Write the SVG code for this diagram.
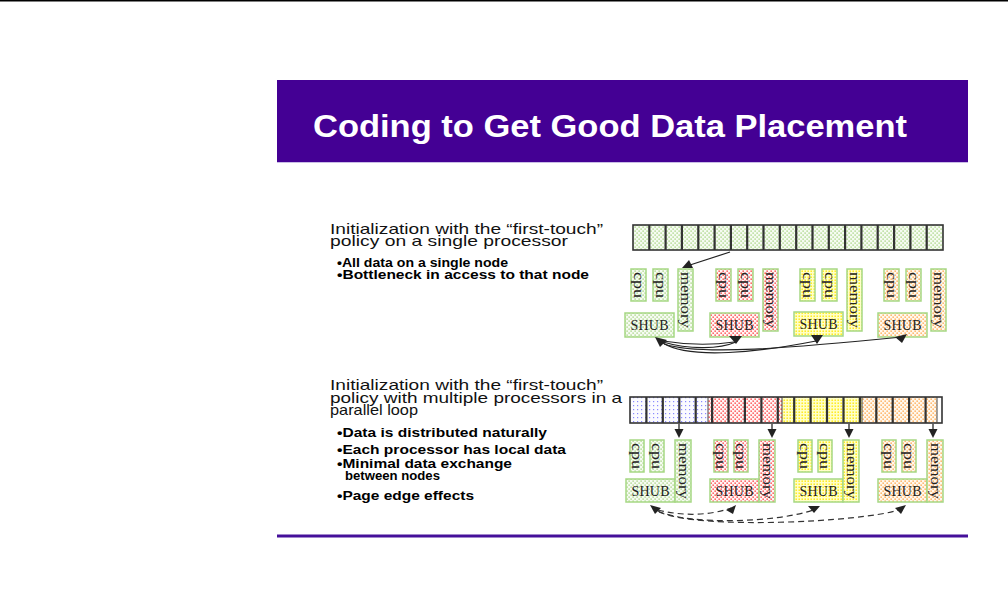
<svg xmlns="http://www.w3.org/2000/svg" width="1008" height="599" viewBox="0 0 1008 599">
<style>
.hd{font-family:"Liberation Sans",Arial,sans-serif;font-size:14.5px;fill:#111}
.bl{font-family:"Liberation Sans",Arial,sans-serif;font-size:13.5px;font-weight:bold;fill:#000}
.ttl{font-family:"Liberation Sans",Arial,sans-serif;font-size:31px;font-weight:bold;fill:#fff}
.box{stroke:#a6d884;stroke-width:1.5}
.lb{font-family:"Liberation Serif","Times New Roman",serif;font-size:15px;fill:#222}
.mm{font-family:"Liberation Serif","Times New Roman",serif;font-size:14px;fill:#222}
.sh{font-family:"Liberation Serif","Times New Roman",serif;font-size:14px;fill:#222}
.ln{fill:none;stroke:#222;stroke-width:1.2}
.dl{fill:none;stroke:#333;stroke-width:1.2;stroke-dasharray:6 4}
.ah{fill:#222}
.arr{stroke:#444;stroke-width:1.5}
.div{fill:none;stroke:#333;stroke-width:2.2}
</style>
<defs>
<pattern id="dg" width="4" height="4" patternUnits="userSpaceOnUse"><rect width="4" height="4" fill="#f6fbf2"/><rect x="0.5" y="0.5" width="1.2" height="1.2" fill="#8fc862"/><rect x="2.5" y="2.5" width="1.2" height="1.2" fill="#8fc862"/></pattern>
<pattern id="dr" width="4" height="4" patternUnits="userSpaceOnUse"><rect width="4" height="4" fill="#fff6f6"/><rect x="0.5" y="0.5" width="1.3" height="1.3" fill="#ff2020"/><rect x="2.5" y="2.5" width="1.3" height="1.3" fill="#ff2020"/></pattern>
<pattern id="dy" width="3" height="3" patternUnits="userSpaceOnUse"><rect width="3" height="3" fill="#ffffc8"/><rect x="0.5" y="0.5" width="1.4" height="1.4" fill="#ffe800"/></pattern>
<pattern id="do" width="4" height="4" patternUnits="userSpaceOnUse"><rect width="4" height="4" fill="#fff8ee"/><rect x="0.5" y="0.5" width="1.3" height="1.3" fill="#ff9a30"/><rect x="2.5" y="2.5" width="1.3" height="1.3" fill="#ff9a30"/></pattern>
<pattern id="db" width="4" height="4" patternUnits="userSpaceOnUse"><rect width="4" height="4" fill="#fbfbff"/><rect x="1" y="1" width="1.2" height="1.2" fill="#8a8aff"/></pattern>
</defs>
<rect width="1008" height="599" fill="#fff"/>
<rect x="0" y="0" width="1008" height="1.5" fill="#000"/>

<g id="title">
<rect x="277" y="80" width="691" height="82" fill="#440094"/>
<rect x="277" y="162" width="691" height="1" fill="#c9bde6"/>
<text class="ttl" x="313" y="137" textLength="594" lengthAdjust="spacingAndGlyphs">Coding to Get Good Data Placement</text>
</g>
<rect id="footer-line" x="277" y="534.5" width="691" height="3" fill="#45109a"/>

<g id="text-single">
<text class="hd" x="330" y="233.5" textLength="273" lengthAdjust="spacingAndGlyphs">Initialization with the “first-touch”</text>
<text class="hd" x="330" y="246" textLength="238" lengthAdjust="spacingAndGlyphs">policy on a single processor</text>
<text class="bl" x="337" y="266.5" textLength="171" lengthAdjust="spacingAndGlyphs">•All data on a single node</text>
<text class="bl" x="337" y="278.5" textLength="252" lengthAdjust="spacingAndGlyphs">•Bottleneck in access to that node</text>
</g>

<g id="text-parallel">
<text class="hd" x="330" y="389.5" textLength="273" lengthAdjust="spacingAndGlyphs">Initialization with the “first-touch”</text>
<text class="hd" x="330" y="402.5" textLength="292" lengthAdjust="spacingAndGlyphs">policy with multiple processors in a</text>
<text class="hd" x="330" y="414.5" textLength="88" lengthAdjust="spacingAndGlyphs">parallel loop</text>
<text class="bl" x="337" y="437" textLength="210" lengthAdjust="spacingAndGlyphs">•Data is distributed naturally</text>
<text class="bl" x="337" y="454" textLength="229" lengthAdjust="spacingAndGlyphs">•Each processor has local data</text>
<text class="bl" x="337" y="468" textLength="175" lengthAdjust="spacingAndGlyphs">•Minimal data exchange</text>
<text class="bl" x="345" y="479.5" textLength="95" lengthAdjust="spacingAndGlyphs">between nodes</text>
<text class="bl" x="337" y="499.5" textLength="137" lengthAdjust="spacingAndGlyphs">•Page edge effects</text>
</g>

<g id="array-single">
<rect x="633" y="225" width="310" height="25" fill="url(#dg)" stroke="#333" stroke-width="1.6"/>
<path class="div" d="M649.3 225V250M665.6 225V250M681.9 225V250M698.3 225V250M714.6 225V250M730.9 225V250M747.2 225V250M763.5 225V250M779.8 225V250M796.2 225V250M812.5 225V250M828.8 225V250M845.1 225V250M861.4 225V250M877.7 225V250M894.1 225V250M910.4 225V250M926.7 225V250"/>
</g>

<g id="array-parallel">
<rect x="630" y="397" width="78" height="26" fill="url(#db)"/>
<rect x="708" y="397" width="74" height="26" fill="url(#dr)"/>
<rect x="782" y="397" width="80" height="26" fill="url(#dy)"/>
<rect x="862" y="397" width="75" height="26" fill="url(#do)"/>
<rect x="630" y="397" width="312" height="26" fill="none" stroke="#333" stroke-width="1.6"/>
<path class="div" d="M646.4 397V423M662.8 397V423M679.3 397V423M695.7 397V423M712.1 397V423M728.5 397V423M744.9 397V423M761.4 397V423M777.8 397V423M794.2 397V423M810.6 397V423M827 397V423M843.5 397V423M859.9 397V423M876.3 397V423M892.7 397V423M909.1 397V423M925.6 397V423"/>
<path d="M708 397V423M782 397V423M862 397V423M937 397V423" fill="none" stroke="#444" stroke-width="1"/>
</g>

<g id="s1-node1">
<rect class="box" x="631" y="269" width="15" height="32" fill="url(#dg)"/>
<rect class="box" x="653" y="269" width="15" height="32" fill="url(#dg)"/>
<rect class="box" x="678" y="269" width="15" height="62" fill="url(#dg)"/>
<rect class="box" x="625" y="313" width="49" height="24" fill="url(#dg)"/>
<text class="lb" transform="translate(638.5,285) rotate(90)" text-anchor="middle" dominant-baseline="central" textLength="26" lengthAdjust="spacingAndGlyphs">cpu</text>
<text class="lb" transform="translate(660.5,285) rotate(90)" text-anchor="middle" dominant-baseline="central" textLength="26" lengthAdjust="spacingAndGlyphs">cpu</text>
<text class="mm" transform="translate(685.5,300) rotate(90)" text-anchor="middle" dominant-baseline="central" textLength="56" lengthAdjust="spacingAndGlyphs">memory</text>
<text class="sh" x="649.5" y="330" text-anchor="middle" textLength="38">SHUB</text>
</g>
<g id="s1-node2">
<rect class="box" x="716" y="269" width="15" height="32" fill="url(#dr)"/>
<rect class="box" x="738" y="269" width="15" height="32" fill="url(#dr)"/>
<rect class="box" x="763" y="269" width="15" height="62" fill="url(#dr)"/>
<rect class="box" x="710" y="313" width="49" height="24" fill="url(#dr)"/>
<text class="lb" transform="translate(723.5,285) rotate(90)" text-anchor="middle" dominant-baseline="central" textLength="26" lengthAdjust="spacingAndGlyphs">cpu</text>
<text class="lb" transform="translate(745.5,285) rotate(90)" text-anchor="middle" dominant-baseline="central" textLength="26" lengthAdjust="spacingAndGlyphs">cpu</text>
<text class="mm" transform="translate(770.5,300) rotate(90)" text-anchor="middle" dominant-baseline="central" textLength="56" lengthAdjust="spacingAndGlyphs">memory</text>
<text class="sh" x="734.5" y="330" text-anchor="middle" textLength="38">SHUB</text>
</g>
<g id="s1-node3">
<rect class="box" x="800" y="269" width="15" height="32" fill="url(#dy)"/>
<rect class="box" x="822" y="269" width="15" height="32" fill="url(#dy)"/>
<rect class="box" x="847" y="269" width="15" height="62" fill="url(#dy)"/>
<rect class="box" x="794" y="312" width="49" height="24" fill="url(#dy)"/>
<text class="lb" transform="translate(807.5,285) rotate(90)" text-anchor="middle" dominant-baseline="central" textLength="26" lengthAdjust="spacingAndGlyphs">cpu</text>
<text class="lb" transform="translate(829.5,285) rotate(90)" text-anchor="middle" dominant-baseline="central" textLength="26" lengthAdjust="spacingAndGlyphs">cpu</text>
<text class="mm" transform="translate(854.5,300) rotate(90)" text-anchor="middle" dominant-baseline="central" textLength="56" lengthAdjust="spacingAndGlyphs">memory</text>
<text class="sh" x="818.5" y="329" text-anchor="middle" textLength="38">SHUB</text>
</g>
<g id="s1-node4">
<rect class="box" x="884" y="269" width="15" height="32" fill="url(#do)"/>
<rect class="box" x="906" y="269" width="15" height="32" fill="url(#do)"/>
<rect class="box" x="931" y="269" width="15" height="62" fill="url(#do)"/>
<rect class="box" x="878" y="313" width="49" height="24" fill="url(#do)"/>
<text class="lb" transform="translate(891.5,285) rotate(90)" text-anchor="middle" dominant-baseline="central" textLength="26" lengthAdjust="spacingAndGlyphs">cpu</text>
<text class="lb" transform="translate(913.5,285) rotate(90)" text-anchor="middle" dominant-baseline="central" textLength="26" lengthAdjust="spacingAndGlyphs">cpu</text>
<text class="mm" transform="translate(938.5,300) rotate(90)" text-anchor="middle" dominant-baseline="central" textLength="56" lengthAdjust="spacingAndGlyphs">memory</text>
<text class="sh" x="902.5" y="330" text-anchor="middle" textLength="38">SHUB</text>
</g>

<g id="s2-node1">
<rect class="box" x="630" y="440" width="14" height="32" fill="url(#dg)"/>
<rect class="box" x="650" y="440" width="14" height="32" fill="url(#dg)"/>
<rect class="box" x="626" y="479" width="49" height="23" fill="url(#dg)"/>
<rect class="box" x="675" y="440" width="16" height="62" fill="url(#dg)"/>
<text class="lb" transform="translate(637,456) rotate(90)" text-anchor="middle" dominant-baseline="central" textLength="26" lengthAdjust="spacingAndGlyphs">cpu</text>
<text class="lb" transform="translate(657,456) rotate(90)" text-anchor="middle" dominant-baseline="central" textLength="26" lengthAdjust="spacingAndGlyphs">cpu</text>
<text class="mm" transform="translate(683,471) rotate(90)" text-anchor="middle" dominant-baseline="central" textLength="56" lengthAdjust="spacingAndGlyphs">memory</text>
<text class="sh" x="650.5" y="495.5" text-anchor="middle" textLength="38">SHUB</text>
</g>
<g id="s2-node2">
<rect class="box" x="714" y="440" width="14" height="32" fill="url(#dr)"/>
<rect class="box" x="734" y="440" width="14" height="32" fill="url(#dr)"/>
<rect class="box" x="710" y="479" width="49" height="23" fill="url(#dr)"/>
<rect class="box" x="759" y="440" width="16" height="62" fill="url(#dr)"/>
<text class="lb" transform="translate(721,456) rotate(90)" text-anchor="middle" dominant-baseline="central" textLength="26" lengthAdjust="spacingAndGlyphs">cpu</text>
<text class="lb" transform="translate(741,456) rotate(90)" text-anchor="middle" dominant-baseline="central" textLength="26" lengthAdjust="spacingAndGlyphs">cpu</text>
<text class="mm" transform="translate(767,471) rotate(90)" text-anchor="middle" dominant-baseline="central" textLength="56" lengthAdjust="spacingAndGlyphs">memory</text>
<text class="sh" x="734.5" y="495.5" text-anchor="middle" textLength="38">SHUB</text>
</g>
<g id="s2-node3">
<rect class="box" x="798" y="440" width="14" height="32" fill="url(#dy)"/>
<rect class="box" x="818" y="440" width="14" height="32" fill="url(#dy)"/>
<rect class="box" x="794" y="479" width="49" height="23" fill="url(#dy)"/>
<rect class="box" x="843" y="440" width="16" height="62" fill="url(#dy)"/>
<text class="lb" transform="translate(805,456) rotate(90)" text-anchor="middle" dominant-baseline="central" textLength="26" lengthAdjust="spacingAndGlyphs">cpu</text>
<text class="lb" transform="translate(825,456) rotate(90)" text-anchor="middle" dominant-baseline="central" textLength="26" lengthAdjust="spacingAndGlyphs">cpu</text>
<text class="mm" transform="translate(851,471) rotate(90)" text-anchor="middle" dominant-baseline="central" textLength="56" lengthAdjust="spacingAndGlyphs">memory</text>
<text class="sh" x="818.5" y="495.5" text-anchor="middle" textLength="38">SHUB</text>
</g>
<g id="s2-node4">
<rect class="box" x="882" y="440" width="14" height="32" fill="url(#do)"/>
<rect class="box" x="902" y="440" width="14" height="32" fill="url(#do)"/>
<rect class="box" x="878" y="479" width="49" height="23" fill="url(#do)"/>
<rect class="box" x="927" y="440" width="16" height="62" fill="url(#do)"/>
<text class="lb" transform="translate(889,456) rotate(90)" text-anchor="middle" dominant-baseline="central" textLength="26" lengthAdjust="spacingAndGlyphs">cpu</text>
<text class="lb" transform="translate(909,456) rotate(90)" text-anchor="middle" dominant-baseline="central" textLength="26" lengthAdjust="spacingAndGlyphs">cpu</text>
<text class="mm" transform="translate(935,471) rotate(90)" text-anchor="middle" dominant-baseline="central" textLength="56" lengthAdjust="spacingAndGlyphs">memory</text>
<text class="sh" x="902.5" y="495.5" text-anchor="middle" textLength="38">SHUB</text>
</g>

<g id="connectors">
<path class="ln" d="M730 252L690 265"/>
<polygon class="ah" points="682,268 689,260 693,268"/>
<path class="ln" d="M663 341Q700 347 734 342"/>
<path class="ln" d="M663 342C690 350 720 349 736 342"/>
<path class="ln" d="M663 343C690 360 760 352 816 341"/>
<path class="ln" d="M664 344C700 356 790 348 902 337"/>
<polygon class="ah" points="655,337 667,340 660,347"/>
<polygon class="ah" points="729,336 742,336 736,344"/>
<polygon class="ah" points="811,335 823,335 817,344"/>
<polygon class="ah" points="895,337 907,334 902,343"/>

<path class="arr" d="M679 424V431M772 424V431M849 424V431M933 424V431"/>
<polygon class="ah" points="674.5,429 683.5,429 679,438"/>
<polygon class="ah" points="767.5,429 776.5,429 772,438"/>
<polygon class="ah" points="844.5,429 853.5,429 849,438"/>
<polygon class="ah" points="928.5,429 937.5,429 933,438"/>

<path class="dl" d="M658 510C682 516 708 516 731 508"/>
<path class="dl" d="M658 511C690 526 780 522 813 510"/>
<path class="dl" d="M659 512C700 530 860 522 899 510"/>
<polygon class="ah" points="650,505 661,508 655,514"/>
<polygon class="ah" points="736,505 733,514 726,510"/>
<polygon class="ah" points="808,506 820,506 814,513"/>
<polygon class="ah" points="895,508 906,505 901,514"/>
</g>
</svg>
